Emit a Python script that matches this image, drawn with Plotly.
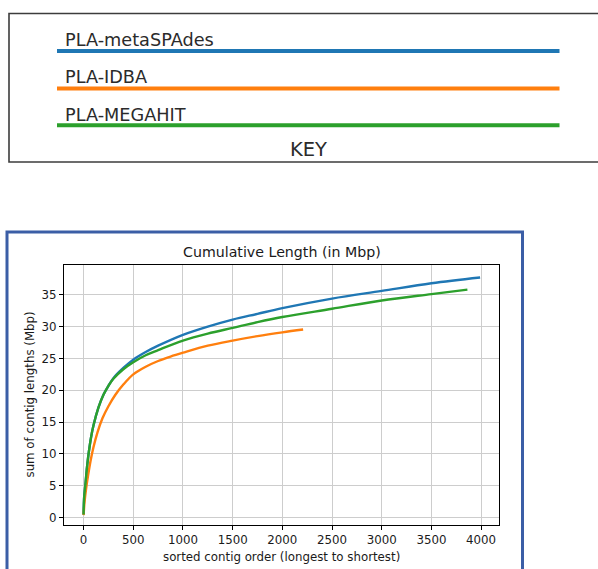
import plotly.graph_objects as go

# ---------------- data ----------------
series_names = ["PLA-metaSPAdes", "PLA-IDBA", "PLA-MEGAHIT"]
series_colors = ["#1f77b4", "#ff7f0e", "#2ca02c"]

spades_x = [0, 5, 20, 35, 50, 75, 100, 150, 200, 250, 300, 400, 500, 625, 750, 1000,
            1250, 1500, 1750, 2000, 2500, 3000, 3500, 3990]
spades_y = [0.5, 3, 5.5, 8, 10, 12.6, 14.5, 17.3, 19.3, 20.7, 21.9, 23.5, 24.8, 26.0, 27.0, 28.7,
            30.0, 31.1, 32.0, 32.9, 34.4, 35.6, 36.8, 37.7]

idba_x = [0, 10, 25, 45, 70, 100, 140, 190, 250, 320, 400, 500, 625, 750, 875, 1000,
          1250, 1500, 1750, 2000, 2209]
idba_y = [0.4, 2.5, 4.5, 6.6, 8.9, 11.1, 13.4, 15.6, 17.5, 19.3, 20.9, 22.5, 23.7, 24.6, 25.3, 25.9,
          27.0, 27.8, 28.5, 29.1, 29.55]

megahit_x = [0, 5, 20, 35, 50, 75, 100, 150, 200, 250, 300, 400, 500, 625, 750, 1000,
             1250, 1500, 1750, 2000, 2500, 3000, 3500, 3862]
megahit_y = [0.5, 3, 5.5, 8, 10, 12.6, 14.5, 17.3, 19.3, 20.7, 21.8, 23.3, 24.4, 25.5, 26.3, 27.8,
             28.9, 29.8, 30.7, 31.5, 32.8, 34.1, 35.1, 35.8]

x_tick_vals = [0, 500, 1000, 1500, 2000, 2500, 3000, 3500, 4000]
y_tick_vals = [0, 5, 10, 15, 20, 25, 30, 35]

chart_title = "Cumulative Length (in Mbp)"
x_title = "sorted contig order (longest to shortest)"
y_title = "sum of contig lengths (Mbp)"
key_title = "KEY"

# ---------------- figure ----------------
W, H = 598, 569
FONT = "DejaVu Sans"
TXT = "#1a1a1a"


def px(x):
    return x / W


def py(y):
    return 1 - y / H


fig = go.Figure()
all_x = [spades_x, idba_x, megahit_x]
all_y = [spades_y, idba_y, megahit_y]
for name, color, xs, ys in zip(series_names, series_colors, all_x, all_y):
    fig.add_trace(go.Scatter(
        x=xs, y=ys, mode="lines", name=name,
        line=dict(color=color, width=2.4, shape="spline", smoothing=1.0),
        showlegend=False, hoverinfo="x+y+name",
    ))

axis_common = dict(
    showline=True, linecolor="black", linewidth=1.2, mirror=True,
    ticks="outside", ticklen=4, tickwidth=1.2, tickcolor="black",
    showgrid=True, gridcolor="#cdcdcd", gridwidth=1.3,
    zeroline=False,
    tickfont=dict(family=FONT, size=11.8, color=TXT),
)

fig.update_layout(
    width=W, height=H, autosize=False,
    margin=dict(l=0, r=0, t=0, b=0),
    paper_bgcolor="white", plot_bgcolor="white",
    xaxis=dict(domain=[px(64), px(499.3)], range=[-197, 4183],
               tickvals=x_tick_vals, ticktext=[str(v) for v in x_tick_vals], **axis_common),
    yaxis=dict(domain=[py(525), py(265)], range=[-1.15, 39.67],
               tickvals=y_tick_vals, ticktext=[str(v) for v in y_tick_vals], **axis_common),
    font=dict(family=FONT, color=TXT),
)

annotations = [
    dict(text=chart_title, x=px(281.6), y=py(252.5), xref="paper", yref="paper",
         xanchor="center", yanchor="middle", showarrow=False,
         font=dict(family=FONT, size=14.2, color=TXT)),
    dict(text=x_title, x=px(281.6), y=py(556.5), xref="paper", yref="paper",
         xanchor="center", yanchor="middle", showarrow=False,
         font=dict(family=FONT, size=11.8, color=TXT)),
    dict(text=y_title, x=px(29.5), y=py(395), xref="paper", yref="paper",
         xanchor="center", yanchor="middle", showarrow=False, textangle=-90,
         font=dict(family=FONT, size=11.8, color=TXT)),
    dict(text=key_title, x=px(308.5), y=py(149.5), xref="paper", yref="paper",
         xanchor="center", yanchor="middle", showarrow=False,
         font=dict(family=FONT, size=19.5, color="#2b2b2b")),
]

shapes = [
    # KEY box
    dict(type="rect", xref="paper", yref="paper", x0=px(9), x1=px(640), y0=py(162), y1=py(13.5),
         line=dict(color="#3c3c3c", width=1.6), fillcolor="rgba(0,0,0,0)", layer="above"),
    # chart frame
    dict(type="rect", xref="paper", yref="paper", x0=px(7), x1=px(522.5), y0=py(620), y1=py(232),
         line=dict(color="#3b5ea6", width=3), fillcolor="rgba(0,0,0,0)", layer="above"),
]

key_line_y = [51, 88.5, 125.3]
key_label_y = [40, 77.5, 115]
for name, color, ly, ty in zip(series_names, series_colors, key_line_y, key_label_y):
    shapes.append(dict(type="line", xref="paper", yref="paper", x0=px(57), x1=px(559.5),
                       y0=py(ly), y1=py(ly), line=dict(color=color, width=4)))
    annotations.append(dict(text=name, x=px(63), y=py(ty), xref="paper", yref="paper",
                            xanchor="left", yanchor="middle", showarrow=False,
                            font=dict(family=FONT, size=17.7, color="#2b2b2b")))

fig.update_layout(annotations=annotations, shapes=shapes)
fig.write_html("out.html")
